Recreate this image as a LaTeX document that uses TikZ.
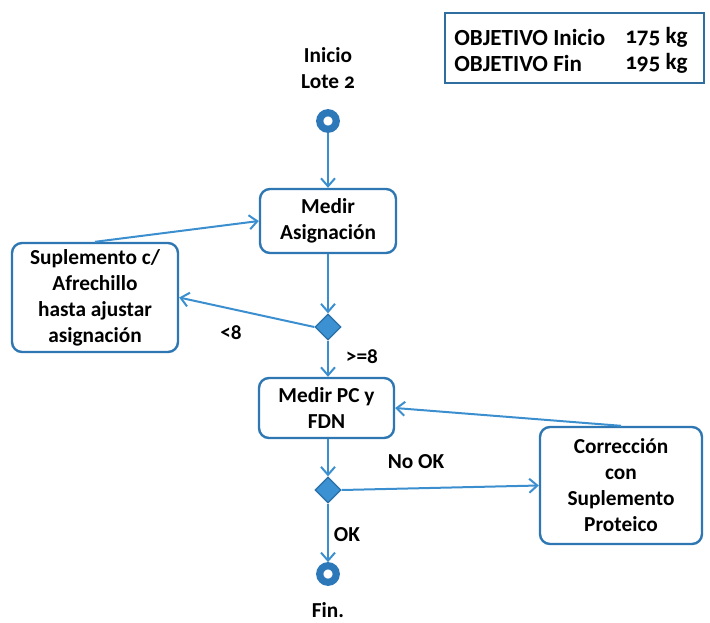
\documentclass[tikz,border=0pt]{standalone}
\usepackage{fontspec}
\setmainfont{Carlito}[Numbers=OldStyle]
\usetikzlibrary{arrows.meta,shapes.geometric}

\definecolor{boxline}{HTML}{2E77B2}
\definecolor{flow}{HTML}{3C8FCF}
\definecolor{ring}{HTML}{2C78B8}
\definecolor{dfill}{HTML}{3C91D2}
\definecolor{dline}{HTML}{2A6FA6}
\definecolor{legendline}{HTML}{2F6E9E}

\tikzset{
  txt/.style={font=\bfseries\fontsize{16}{19.5}\selectfont, text=black, align=center},
  stepbox/.style={txt, draw=boxline, line width=1.8pt, rounded corners=7.5pt,
    inner sep=0pt, fill=white},
  choice/.style={diamond, draw=dline, fill=dfill, line width=1pt,
    minimum size=19.5pt, inner sep=0pt},
  terminal/.style={circle, draw=ring, line width=5.4pt, minimum size=12.4pt,
    inner sep=0pt},
  flowarrow/.style={draw=flow, line width=1.5pt,
    -{Straight Barb[length=6pt,width=10.5pt,line width=1.5pt]}},
  lbl/.style={txt, inner sep=0pt},
  legendtxt/.style={lbl, font=\bfseries\fontsize{17.3}{19.5}\selectfont,
    anchor=west, align=left}
}

\begin{document}
\begin{tikzpicture}[x=0.75pt,y=-0.75pt]
\useasboundingbox (0,0) rectangle (710,622);

% objective legend
\node[draw=legendline, line width=1.8pt, minimum width=194.25pt,
  minimum height=52.5pt, inner sep=0pt] (legend) at (574.5,48) {};
\node[legendtxt] (objlbl) at (454,50) {OBJETIVO Inicio\\OBJETIVO Fin};
\node[legendtxt] (objval) at (625,50) {175 kg\\195 kg};

% start
\node[lbl] (startlbl) at (328,68) {Inicio\\Lote 2};
\node[terminal] (start) at (328,121) {};

% activities
\node[stepbox, minimum width=102pt, minimum height=48pt] (asig) at (328,221)
  {Medir\\Asignación};
\node[stepbox, minimum width=124.5pt, minimum height=81.75pt] (supl) at (95,297.5)
  {Suplemento c/\\Afrechillo\\hasta ajustar\\asignación};
\node[choice] (d1) at (328,327) {};
\node[stepbox, minimum width=101.25pt, minimum height=45pt] (pcfdn) at (326.5,408)
  {Medir PC y\\FDN};
\node[stepbox, minimum width=121.5pt, minimum height=87.75pt] (corr) at (621,485.5)
  {Corrección\\con\\Suplemento\\Proteico};
\node[choice] (d2) at (328,490) {};

% end
\node[terminal] (fin) at (328,574) {};
\node[lbl] (finlbl) at (328,610) {Fin.};

% guard labels
\node[lbl] (lt8) at (231,333) {<8};
\node[lbl] (ge8) at (362,357) {>=8};
\node[lbl] (nook) at (416,462) {No OK};
\node[lbl] (ok) at (347,535) {OK};

% connectors
\draw[flowarrow] (start) -- (asig.north);
\draw[flowarrow] (asig.south) -- (d1.north);
\draw[flowarrow] (d1.west) -- (supl.east);
\draw[flowarrow] (supl.north) -- (asig.west);
\draw[flowarrow] (d1.south) -- (pcfdn.north -| d1.south);
\draw[flowarrow] (pcfdn.south -| d2.north) -- (d2.north);
\draw[flowarrow] (d2.east) -- (corr.west);
\draw[flowarrow] (corr.north) -- (pcfdn.east);
\draw[flowarrow] (d2.south) -- (fin.north);
\end{tikzpicture}
\end{document}
